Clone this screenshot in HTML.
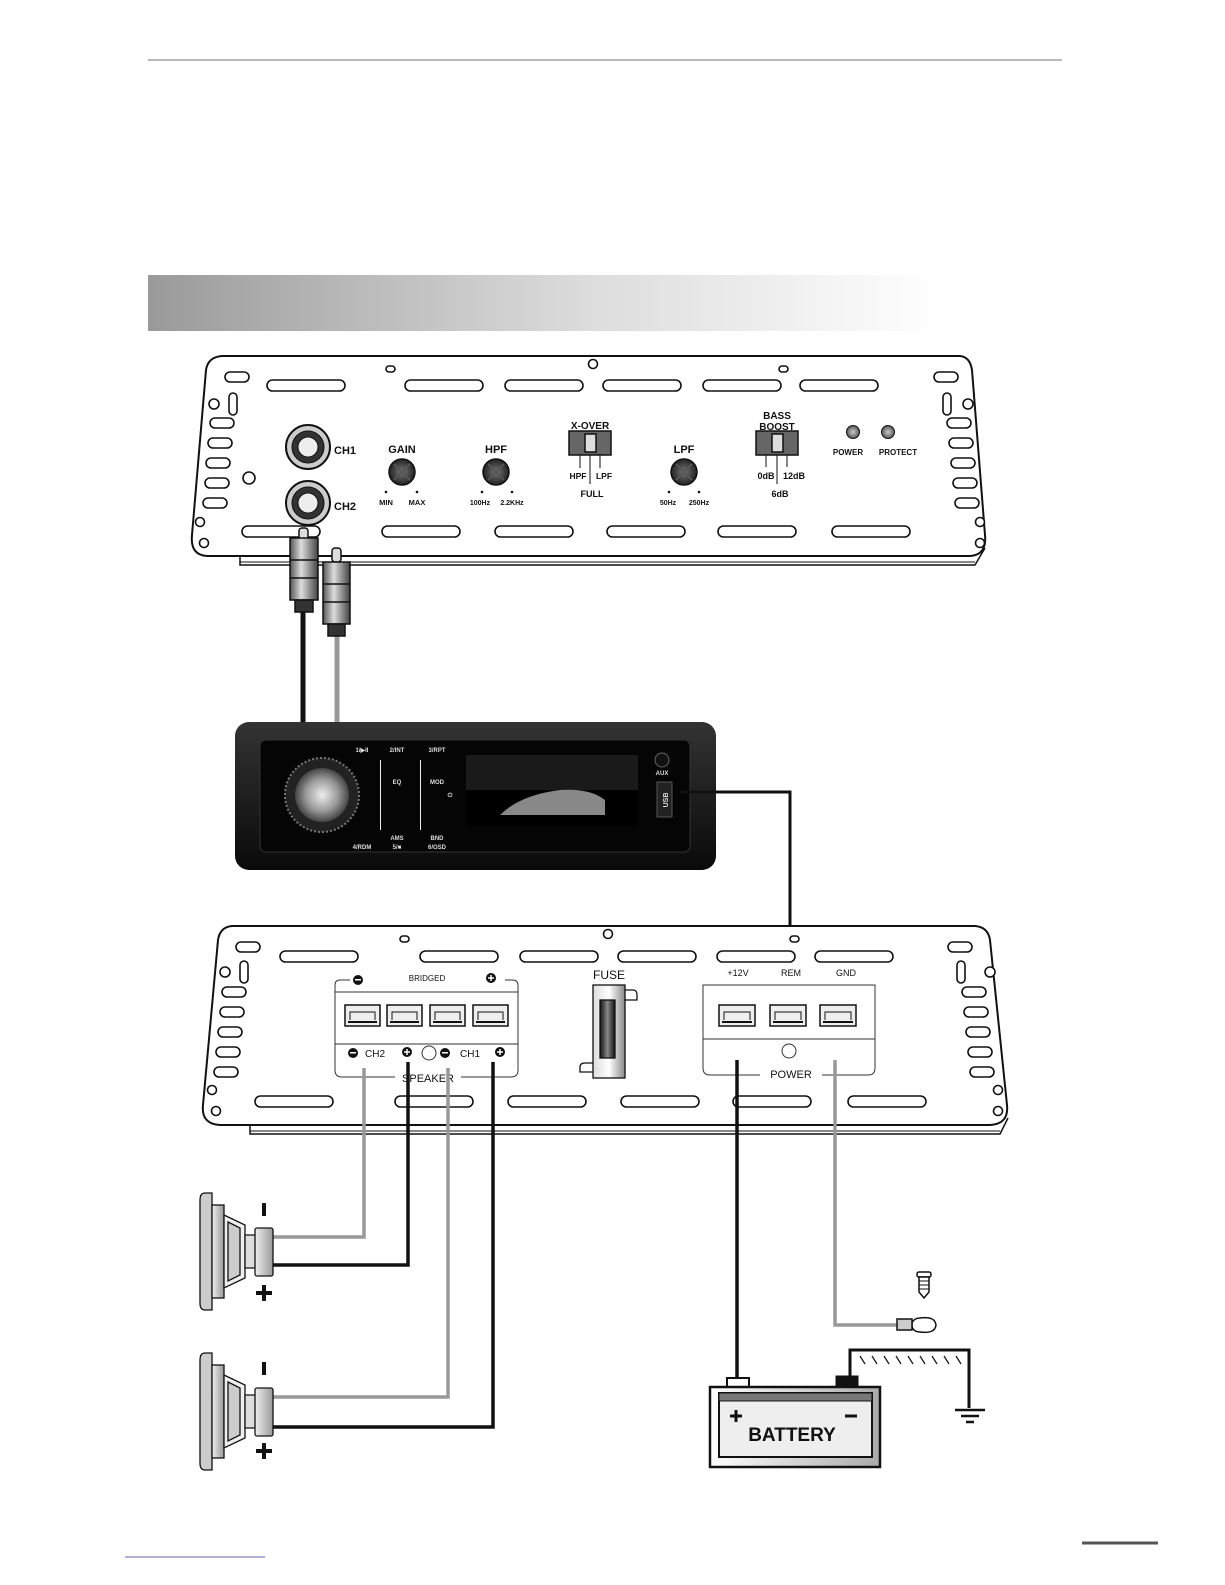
<!DOCTYPE html>
<html><head><meta charset="utf-8">
<style>
html,body{margin:0;padding:0;background:#fff;}
svg{display:block;}
text{font-family:"Liberation Sans",sans-serif;}
</style></head>
<body>
<svg width="1225" height="1585" viewBox="0 0 1225 1585" xmlns="http://www.w3.org/2000/svg" xmlns:xlink="http://www.w3.org/1999/xlink">
<defs>
<linearGradient id="bar" x1="0" x2="1" y1="0" y2="0">
<stop offset="0" stop-color="#9a9a9a"/><stop offset="0.55" stop-color="#dcdcdc"/><stop offset="1" stop-color="#fff"/>
</linearGradient>
<radialGradient id="knob"><stop offset="0" stop-color="#777"/><stop offset="1" stop-color="#222"/></radialGradient>
<radialGradient id="led"><stop offset="0" stop-color="#ccc"/><stop offset="1" stop-color="#555"/></radialGradient>
<radialGradient id="dial"><stop offset="0" stop-color="#eee"/><stop offset="0.6" stop-color="#999"/><stop offset="1" stop-color="#444"/></radialGradient>
<linearGradient id="fuse" x1="0" x2="1"><stop offset="0" stop-color="#ddd"/><stop offset="0.5" stop-color="#fff"/><stop offset="1" stop-color="#888"/></linearGradient>
<linearGradient id="fusein" x1="0" x2="1"><stop offset="0" stop-color="#111"/><stop offset="0.5" stop-color="#888"/><stop offset="1" stop-color="#111"/></linearGradient>
<linearGradient id="bat" x1="0" x2="1"><stop offset="0" stop-color="#fff"/><stop offset="1" stop-color="#aaa"/></linearGradient>
<linearGradient id="hu" x1="0" x2="0" y1="0" y2="1"><stop offset="0" stop-color="#333"/><stop offset="1" stop-color="#0a0a0a"/></linearGradient>
<linearGradient id="plug" x1="0" x2="1"><stop offset="0" stop-color="#555"/><stop offset="0.4" stop-color="#ddd"/><stop offset="1" stop-color="#444"/></linearGradient>
<linearGradient id="spkg" x1="0" x2="1"><stop offset="0" stop-color="#eee"/><stop offset="1" stop-color="#999"/></linearGradient>
</defs>

<line x1="148" y1="60" x2="1062" y2="60" stroke="#777" stroke-width="1"/>
<rect x="148" y="275" width="795" height="56" fill="url(#bar)"/>

<!-- TOP AMP -->
<g fill="none" stroke="#111" stroke-width="2">
<path d="M222 356 L960 356 Q970 357 972 370 L985 535 Q987 555 970 556 L207 556 Q190 555 192 535 L206 370 Q208 357 222 356 Z" fill="#fff"/>
<path d="M240 556 L240 565 L975 565 L985 548" stroke-width="1.5"/>
<line x1="240" y1="562" x2="975" y2="562" stroke-width="1"/>
</g>
<g fill="#fff" stroke="#111" stroke-width="1.6">
<rect x="267" y="380" width="78" height="11" rx="5.5"/>
<rect x="405" y="380" width="78" height="11" rx="5.5"/>
<rect x="505" y="380" width="78" height="11" rx="5.5"/>
<rect x="603" y="380" width="78" height="11" rx="5.5"/>
<rect x="703" y="380" width="78" height="11" rx="5.5"/>
<rect x="800" y="380" width="78" height="11" rx="5.5"/>
<rect x="242" y="526" width="78" height="11" rx="5.5"/>
<rect x="382" y="526" width="78" height="11" rx="5.5"/>
<rect x="495" y="526" width="78" height="11" rx="5.5"/>
<rect x="607" y="526" width="78" height="11" rx="5.5"/>
<rect x="718" y="526" width="78" height="11" rx="5.5"/>
<rect x="832" y="526" width="78" height="11" rx="5.5"/>
<rect x="386" y="366" width="9" height="6" rx="3"/>
<rect x="779" y="366" width="9" height="6" rx="3"/>
<circle cx="593" cy="364" r="4.5"/>
<rect x="225" y="372" width="24" height="10" rx="5"/>
<circle cx="214" cy="404" r="5"/><rect x="229" y="393" width="8" height="22" rx="4"/>
<rect x="210" y="418" width="24" height="10" rx="5"/>
<rect x="208" y="438" width="24" height="10" rx="5"/>
<rect x="206" y="458" width="24" height="10" rx="5"/>
<rect x="205" y="478" width="24" height="10" rx="5"/>
<rect x="203" y="498" width="24" height="10" rx="5"/>
<circle cx="200" cy="522" r="4.5"/><circle cx="204" cy="543" r="4.5"/>
<rect x="934" y="372" width="24" height="10" rx="5"/>
<circle cx="968" cy="404" r="5"/><rect x="943" y="393" width="8" height="22" rx="4"/>
<rect x="947" y="418" width="24" height="10" rx="5"/>
<rect x="949" y="438" width="24" height="10" rx="5"/>
<rect x="951" y="458" width="24" height="10" rx="5"/>
<rect x="953" y="478" width="24" height="10" rx="5"/>
<rect x="955" y="498" width="24" height="10" rx="5"/>
<circle cx="980" cy="522" r="4.5"/><circle cx="980" cy="543" r="4.5"/>
<circle cx="249" cy="478" r="6"/>
</g>
<g stroke="#111">
<circle cx="308" cy="447" r="22" fill="#ccc" stroke-width="2"/><circle cx="308" cy="447" r="16" fill="#333"/><circle cx="308" cy="447" r="10" fill="#eee" stroke-width="1"/>
<circle cx="308" cy="503" r="22" fill="#ccc" stroke-width="2"/><circle cx="308" cy="503" r="16" fill="#333"/><circle cx="308" cy="503" r="10" fill="#eee" stroke-width="1"/>
</g>
<g font-weight="bold" fill="#111">
<text x="334" y="454" font-size="11">CH1</text>
<text x="334" y="510" font-size="11">CH2</text>
<text x="402" y="453" font-size="11" text-anchor="middle">GAIN</text>
<text x="496" y="453" font-size="11" text-anchor="middle">HPF</text>
<text x="590" y="429" font-size="10" text-anchor="middle">X-OVER</text>
<text x="684" y="453" font-size="11" text-anchor="middle">LPF</text>
<text x="777" y="419" font-size="10" text-anchor="middle">BASS</text>
<text x="777" y="430" font-size="10" text-anchor="middle">BOOST</text>
<text x="848" y="455" font-size="8" text-anchor="middle">POWER</text>
<text x="898" y="455" font-size="8" text-anchor="middle">PROTECT</text>
<text x="386" y="505" font-size="7.5" text-anchor="middle">MIN</text>
<text x="417" y="505" font-size="7.5" text-anchor="middle">MAX</text>
<text x="480" y="505" font-size="7" text-anchor="middle">100Hz</text>
<text x="512" y="505" font-size="7" text-anchor="middle">2.2KHz</text>
<text x="578" y="479" font-size="8.5" text-anchor="middle">HPF</text>
<text x="604" y="479" font-size="8.5" text-anchor="middle">LPF</text>
<text x="592" y="497" font-size="9" text-anchor="middle">FULL</text>
<text x="668" y="505" font-size="7" text-anchor="middle">50Hz</text>
<text x="699" y="505" font-size="7" text-anchor="middle">250Hz</text>
<text x="766" y="479" font-size="9" text-anchor="middle">0dB</text>
<text x="794" y="479" font-size="9" text-anchor="middle">12dB</text>
<text x="780" y="497" font-size="9" text-anchor="middle">6dB</text>
</g>
<g fill="#111">
<circle cx="386" cy="492" r="1.3"/><circle cx="417" cy="492" r="1.3"/>
<circle cx="482" cy="492" r="1.3"/><circle cx="512" cy="492" r="1.3"/>
<circle cx="669" cy="492" r="1.3"/><circle cx="699" cy="492" r="1.3"/>
</g>
<g stroke="#111" stroke-width="1.5">
<circle cx="402" cy="472" r="13" fill="url(#knob)"/>
<circle cx="496" cy="472" r="13" fill="url(#knob)"/>
<circle cx="684" cy="472" r="13" fill="url(#knob)"/>
<path d="M394 464 L410 480 M410 464 L394 480 M488 464 L504 480 M504 464 L488 480 M676 464 L692 480 M692 464 L676 480" stroke="#555" stroke-width="2"/>
<rect x="569" y="431" width="42" height="24" fill="#666"/><rect x="585" y="434" width="11" height="18" fill="#ddd"/>
<rect x="756" y="431" width="42" height="24" fill="#666"/><rect x="772" y="434" width="11" height="18" fill="#ddd"/>
<path d="M580 455 V468 M590 455 V484 M600 455 V468 M766 455 V467 M777 455 V484 M787 455 V467" stroke-width="1"/>
<circle cx="853" cy="432" r="6.5" fill="url(#led)" stroke-width="1"/>
<circle cx="888" cy="432" r="6.5" fill="url(#led)" stroke-width="1"/>
</g>

<line x1="303" y1="590" x2="303" y2="722" stroke="#111" stroke-width="5"/>
<line x1="337" y1="630" x2="337" y2="722" stroke="#999" stroke-width="5"/>
<g stroke="#111" stroke-width="1.5">
<rect x="299" y="528" width="9" height="12" rx="3" fill="#ddd"/>
<rect x="290" y="538" width="28" height="62" fill="url(#plug)"/>
<path d="M290 560 H318 M290 578 H318" />
<rect x="295" y="600" width="18" height="12" fill="#333"/>
<rect x="332" y="548" width="9" height="14" rx="3" fill="#ddd"/>
<rect x="323" y="562" width="27" height="62" fill="url(#plug)"/>
<path d="M323 584 H350 M323 602 H350"/>
<rect x="328" y="624" width="17" height="12" fill="#333"/>
</g>

<!-- HEAD UNIT -->
<rect x="235" y="722" width="481" height="148" rx="14" fill="url(#hu)"/>
<rect x="260" y="740" width="430" height="112" rx="6" fill="#050505" stroke="#333"/>
<rect x="466" y="755" width="172" height="71" fill="#1a1a1a"/>
<rect x="466" y="790" width="172" height="36" fill="#000"/>
<path d="M500 815 Q520 795 560 790 Q590 788 605 800 L605 815 Z" fill="#aaa" opacity="0.8"/>
<circle cx="322" cy="795" r="37" fill="#222" stroke="#777" stroke-width="2" stroke-dasharray="2 2"/>
<circle cx="322" cy="795" r="27" fill="url(#dial)"/>
<rect x="380" y="760" width="1" height="70" fill="#eee"/>
<rect x="420" y="760" width="1" height="70" fill="#eee"/>
<circle cx="662" cy="760" r="7" fill="#111" stroke="#666"/>
<rect x="657" y="782" width="15" height="35" fill="#222" stroke="#555"/>
<g fill="#ddd" font-size="6" font-weight="bold" text-anchor="middle">
<text x="362" y="752">1/▶II</text><text x="397" y="752">2/INT</text><text x="437" y="752">3/RPT</text>
<text x="397" y="784">EQ</text><text x="437" y="784">MOD</text>
<text x="397" y="840">AMS</text><text x="437" y="840">BND</text>
<text x="362" y="849">4/RDM</text><text x="397" y="849">5/■</text><text x="437" y="849">6/OSD</text>
<text x="662" y="775">AUX</text><text x="450" y="797">⏻</text>
</g>
<text x="668" y="800" font-size="7" font-weight="bold" fill="#ddd" transform="rotate(-90 668 800)" text-anchor="middle">USB</text>

<path d="M680 792 H790 V1020" fill="none" stroke="#111" stroke-width="3"/>

<!-- BOTTOM AMP -->
<g fill="none" stroke="#111" stroke-width="2">
<path d="M232 926 L975 926 Q988 927 990 940 L1007 1105 Q1009 1124 990 1125 L220 1125 Q201 1124 203 1105 L218 940 Q220 927 232 926 Z" fill="#fff"/>
<path d="M250 1125 L250 1134 L1000 1134 L1008 1118" stroke-width="1.5"/>
<line x1="250" y1="1131" x2="1000" y2="1131" stroke-width="1"/>
</g>
<g fill="#fff" stroke="#111" stroke-width="1.6">
<rect x="280" y="951" width="78" height="11" rx="5.5"/>
<rect x="420" y="951" width="78" height="11" rx="5.5"/>
<rect x="520" y="951" width="78" height="11" rx="5.5"/>
<rect x="618" y="951" width="78" height="11" rx="5.5"/>
<rect x="717" y="951" width="78" height="11" rx="5.5"/>
<rect x="815" y="951" width="78" height="11" rx="5.5"/>
<rect x="255" y="1096" width="78" height="11" rx="5.5"/>
<rect x="395" y="1096" width="78" height="11" rx="5.5"/>
<rect x="508" y="1096" width="78" height="11" rx="5.5"/>
<rect x="621" y="1096" width="78" height="11" rx="5.5"/>
<rect x="733" y="1096" width="78" height="11" rx="5.5"/>
<rect x="848" y="1096" width="78" height="11" rx="5.5"/>
<rect x="400" y="936" width="9" height="6" rx="3"/>
<rect x="790" y="936" width="9" height="6" rx="3"/>
<circle cx="608" cy="934" r="4.5"/>
<rect x="236" y="942" width="24" height="10" rx="5"/>
<circle cx="225" cy="972" r="5"/><rect x="240" y="961" width="8" height="22" rx="4"/>
<rect x="222" y="987" width="24" height="10" rx="5"/>
<rect x="220" y="1007" width="24" height="10" rx="5"/>
<rect x="218" y="1027" width="24" height="10" rx="5"/>
<rect x="216" y="1047" width="24" height="10" rx="5"/>
<rect x="214" y="1067" width="24" height="10" rx="5"/>
<circle cx="212" cy="1090" r="4.5"/><circle cx="216" cy="1111" r="4.5"/>
<rect x="948" y="942" width="24" height="10" rx="5"/>
<circle cx="990" cy="972" r="5"/><rect x="957" y="961" width="8" height="22" rx="4"/>
<rect x="962" y="987" width="24" height="10" rx="5"/>
<rect x="964" y="1007" width="24" height="10" rx="5"/>
<rect x="966" y="1027" width="24" height="10" rx="5"/>
<rect x="968" y="1047" width="24" height="10" rx="5"/>
<rect x="970" y="1067" width="24" height="10" rx="5"/>
<circle cx="998" cy="1090" r="4.5"/><circle cx="998" cy="1111" r="4.5"/>
</g>
<g fill="none" stroke="#333" stroke-width="1">
<rect x="335" y="992" width="183" height="52"/>
<path d="M335 1044 V1070 Q335 1077 342 1077 H395 M461 1077 H511 Q518 1077 518 1070 V1044"/>
<path d="M335 992 V985 Q335 980 340 980 H350 M505 980 H512 Q518 980 518 985 V992"/>
<rect x="703" y="985" width="172" height="54"/>
<path d="M703 1039 V1068 Q703 1075 710 1075 H760 M822 1075 H868 Q875 1075 875 1068 V1039"/>
<circle cx="429" cy="1053" r="7"/><circle cx="789" cy="1051" r="7"/>
</g>
<g stroke="#111" stroke-width="1.5" fill="#eee">
<rect x="345" y="1005" width="35" height="21"/><rect x="387" y="1005" width="35" height="21"/><rect x="430" y="1005" width="35" height="21"/><rect x="473" y="1005" width="35" height="21"/>
<rect x="719" y="1005" width="36" height="21"/><rect x="770" y="1005" width="36" height="21"/><rect x="820" y="1005" width="36" height="21"/>
<path d="M350 1020 V1012 H375 V1020 M392 1020 V1012 H417 V1020 M435 1020 V1012 H460 V1020 M478 1020 V1012 H503 V1020 M724 1020 V1012 H750 V1020 M775 1020 V1012 H801 V1020 M825 1020 V1012 H851 V1020" fill="none" stroke-width="1"/>
<path d="M348 1022 H377 M390 1022 H419 M433 1022 H462 M476 1022 H505 M722 1022 H752 M773 1022 H803 M823 1022 H853" stroke-width="2"/>
</g>
<g fill="#111" font-size="9">
<text x="427" y="981" text-anchor="middle" font-size="8">BRIDGED</text>
<text x="365" y="1057" font-size="10">CH2</text>
<text x="460" y="1057" font-size="10">CH1</text>
<text x="428" y="1082" text-anchor="middle" font-size="11">SPEAKER</text>
<text x="791" y="1078" text-anchor="middle" font-size="11">POWER</text>
<text x="738" y="976" text-anchor="middle">+12V</text>
<text x="791" y="976" text-anchor="middle">REM</text>
<text x="846" y="976" text-anchor="middle">GND</text>
<text x="609" y="979" text-anchor="middle" font-size="12">FUSE</text>
</g>
<g fill="#fff">
<circle cx="358" cy="980" r="5" fill="#111"/><rect x="355" y="979" width="6" height="1.5"/>
<circle cx="491" cy="978" r="5" fill="#111"/><path d="M488 978 H494 M491 975 V981" stroke="#fff" stroke-width="1.5"/>
<circle cx="353" cy="1053" r="5" fill="#111"/><rect x="350" y="1052" width="6" height="1.5"/>
<circle cx="407" cy="1052" r="5" fill="#111"/><path d="M404 1052 H410 M407 1049 V1055" stroke="#fff" stroke-width="1.5"/>
<circle cx="445" cy="1053" r="5" fill="#111"/><rect x="442" y="1052" width="6" height="1.5"/>
<circle cx="500" cy="1052" r="5" fill="#111"/><path d="M497 1052 H503 M500 1049 V1055" stroke="#fff" stroke-width="1.5"/>
</g>
<g stroke="#111" stroke-width="1.3">
<path d="M625 990 H633 Q637 990 637 995 V1000 H625" fill="#fff"/>
<path d="M593 1063 H585 Q580 1063 580 1067 V1072 H593" fill="#fff"/>
<rect x="593" y="985" width="32" height="93" fill="url(#fuse)"/>
<rect x="600" y="1000" width="15" height="58" fill="url(#fusein)"/>
</g>

<g fill="none" stroke-width="3.5">
<path d="M364 1068 V1237 H272" stroke="#999"/>
<path d="M408 1062 V1265 H272" stroke="#111"/>
<path d="M448 1068 V1397 H272" stroke="#999"/>
<path d="M493 1062 V1427 H272" stroke="#111"/>
<path d="M737 1060 V1385" stroke="#111"/>
<path d="M835 1060 V1325 H897" stroke="#999"/>
</g>

<!-- speakers -->
<g id="spkgrp" stroke="#111" stroke-width="1.3">
<path d="M205 1193 Q200 1193 200 1200 V1303 Q200 1310 205 1310 L212 1310 V1193 Z" fill="#ccc"/>
<rect x="212" y="1205" width="12" height="93" fill="url(#spkg)"/>
<path d="M224 1215 L245 1225 V1278 L224 1288 Z" fill="#eee"/>
<path d="M228 1222 L240 1228 V1275 L228 1281 Z" fill="#ccc"/>
<path d="M245 1235 H258 V1268 H245 Z" fill="#ddd"/>
<rect x="255" y="1228" width="18" height="48" rx="2" fill="url(#spkg)"/>
</g>
<use href="#spkgrp" xlink:href="#spkgrp" transform="translate(0 160)"/>
<g fill="#111">
<rect x="262" y="1203" width="4" height="13"/>
<rect x="262" y="1285" width="4" height="16"/><rect x="256" y="1291" width="16" height="4"/>
<rect x="262" y="1362" width="4" height="13"/>
<rect x="262" y="1443" width="4" height="16"/><rect x="256" y="1449" width="16" height="4"/>
</g>

<g stroke="#111" stroke-width="1.5" fill="#fff">
<path d="M912 1323 Q914 1318 920 1318 Q935 1316 936 1325 Q935 1334 920 1332 Q914 1332 912 1327 Z"/>
<rect x="897" y="1319" width="15" height="11" fill="#ccc"/>
<rect x="917" y="1272" width="14" height="5" rx="2"/>
<path d="M919 1277 H929 V1292 L924 1298 L919 1292 Z"/>
<path d="M919 1281 H929 M919 1285 H929 M919 1289 H929" stroke-width="1"/>
</g>
<g fill="none" stroke="#111" stroke-width="3">
<path d="M850 1385 V1350 H969 V1408"/>
<path d="M955 1410 H985 M961 1416 H979 M966 1422 H974" stroke-width="2.5"/>
</g>
<path d="M860 1356 l5 8 M872 1356 l5 8 M884 1356 l5 8 M896 1356 l5 8 M908 1356 l5 8 M920 1356 l5 8 M932 1356 l5 8 M944 1356 l5 8 M956 1356 l5 8" stroke="#111" stroke-width="1.2"/>
<g stroke="#111">
<rect x="727" y="1378" width="22" height="9" fill="#fff" stroke-width="2"/>
<rect x="836" y="1376" width="22" height="11" fill="#111"/>
<rect x="710" y="1387" width="170" height="80" fill="url(#bat)" stroke-width="2.5"/>
<rect x="719" y="1393" width="153" height="64" fill="#eee" stroke-width="2"/>
<rect x="719" y="1393" width="153" height="8" fill="#777" stroke-width="1"/>
</g>
<text x="792" y="1441" font-size="19" font-weight="bold" text-anchor="middle" fill="#111">BATTERY</text>
<path d="M730 1416 H742 M736 1410 V1422 M845 1416 H857" stroke="#111" stroke-width="3"/>

<line x1="1082" y1="1543" x2="1158" y2="1543" stroke="#555" stroke-width="3"/>
<line x1="125" y1="1557" x2="265" y2="1557" stroke="#66a" stroke-width="1"/>
</svg>
</body></html>
